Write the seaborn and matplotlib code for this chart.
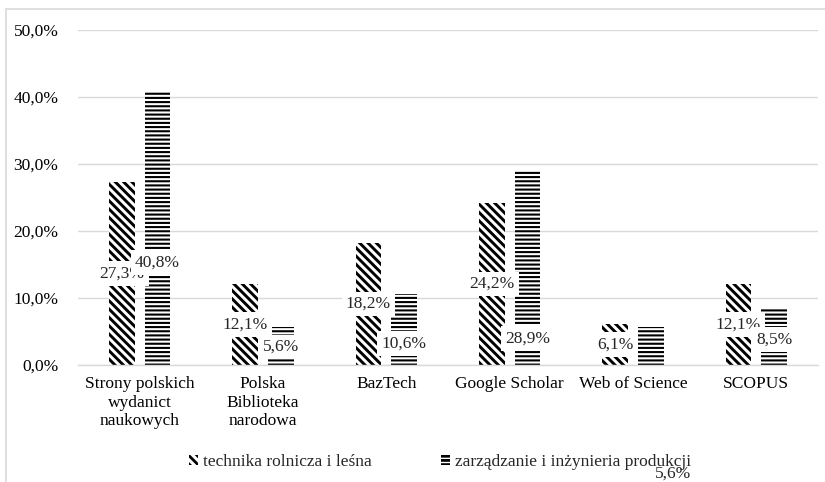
import numpy as np
import pandas as pd
import matplotlib
matplotlib.use("Agg")
import matplotlib.pyplot as plt
import seaborn as sns
from matplotlib.patches import Patch, Rectangle
from matplotlib.ticker import FuncFormatter

categories = ["Strony polskich\nwydanict\nnaukowych", "Polska\nBiblioteka\nnarodowa",
              "BazTech", "Google Scholar", "Web of Science", "SCOPUS"]
series = ["technika rolnicza i leśna", "zarządzanie i inżynieria produkcji"]
technika = [27.3, 12.1, 18.2, 24.2, 6.1, 12.1]
zarzadzanie = [40.8, 5.6, 10.6, 28.9, 5.6, 8.5]
y_ticks = [0, 10, 20, 30, 40, 50]

# where the data labels of the 2nd series ended up in the original (data units);
# the Web of Science one fell below the legend
label_y_2 = [15.3, 2.7, 3.2, 4.0, None, 3.85]

df = pd.DataFrame({
    "kategoria": categories * 2,
    "seria": [series[0]] * len(categories) + [series[1]] * len(categories),
    "wartosc": technika + zarzadzanie,
})

sns.set_style("white")
plt.rcParams["font.family"] = ["Liberation Serif", "DejaVu Serif"]
plt.rcParams["hatch.linewidth"] = 2.0

fig = plt.figure(figsize=(8.25, 4.82), dpi=100)
ax = fig.add_axes([78 / 825, 1 - 365 / 482, 740 / 825, 335 / 482])

sns.barplot(data=df, x="kategoria", y="wartosc", hue="seria", order=categories,
            hue_order=series, palette=["white", "white"], width=0.58, gap=0.28,
            legend=False, ax=ax, zorder=2)

hatches = ["\\\\\\\\", "----"]
hatch_lw = [2.1, 1.5]
for cont, h, hl in zip(ax.containers, hatches, hatch_lw):
    for bar in cont:
        bar.set_facecolor("white")
        bar.set_edgecolor("black")
        bar.set_linewidth(0)
        bar.set_hatch(h)
        if hasattr(bar, "set_hatch_linewidth"):
            bar.set_hatch_linewidth(hl)

box = dict(boxstyle="square,pad=0.25", fc="white", ec="none")
fs = 12.5
for i, bar in enumerate(ax.containers[0]):
    x = bar.get_x() + bar.get_width() / 2
    ax.text(x, technika[i] / 2, f"{technika[i]:.1f}%".replace(".", ","),
            ha="center", va="center", fontsize=fs, bbox=box, zorder=3)

ax.set_ylim(0, 50)
ax.set_xlim(-0.5, len(categories) - 0.5)
ax.set_yticks(y_ticks)
ax.yaxis.set_major_formatter(FuncFormatter(lambda v, p: f"{v:.1f}%".replace(".", ",")))
ax.grid(axis="y", color="#d9d9d9", linewidth=1.0, zorder=0)
ax.set_axisbelow(True)
for s in ["top", "right", "left"]:
    ax.spines[s].set_visible(False)
ax.spines["bottom"].set_color("#d9d9d9")
ax.spines["bottom"].set_linewidth(1.0)
ax.tick_params(axis="both", length=0, labelsize=fs, colors="black")
ax.tick_params(axis="y", pad=14)
ax.tick_params(axis="x", pad=8)
ax.set_xlabel("")
ax.set_ylabel("")

handles = [Patch(facecolor="white", edgecolor="black", linewidth=0, hatch=h) for h in hatches]
leg = fig.legend(handles, series, loc="center", bbox_to_anchor=(440 / 825, 1 - 462 / 482),
                 ncol=2, frameon=False, fontsize=fs, handlelength=0.5, handleheight=0.5,
                 handletextpad=0.3, columnspacing=4.0)

# labels of the second series; the lost one sits under the end of the legend text
fig.canvas.draw()
ext = leg.get_texts()[1].get_window_extent()
for i, bar in enumerate(ax.containers[1]):
    txt = f"{zarzadzanie[i]:.1f}%".replace(".", ",")
    if label_y_2[i] is None:
        fig.text(ext.x1 / fig.dpi / fig.get_figwidth(), (ext.y0 - 4) / fig.dpi / fig.get_figheight(),
                 txt, ha="right", va="center", fontsize=fs, zorder=5)
        continue
    x = bar.get_x() + bar.get_width() / 2
    ax.text(x, label_y_2[i], txt, ha="center", va="center", fontsize=fs, bbox=box, zorder=4)

fig.patches.append(Rectangle((6 / 825, -0.05), 1.0, 1 - 9 / 482 + 0.05, transform=fig.transFigure,
                             fill=False, edgecolor="#d9d9d9", linewidth=1.2))

fig.savefig("out.png", dpi=100)
